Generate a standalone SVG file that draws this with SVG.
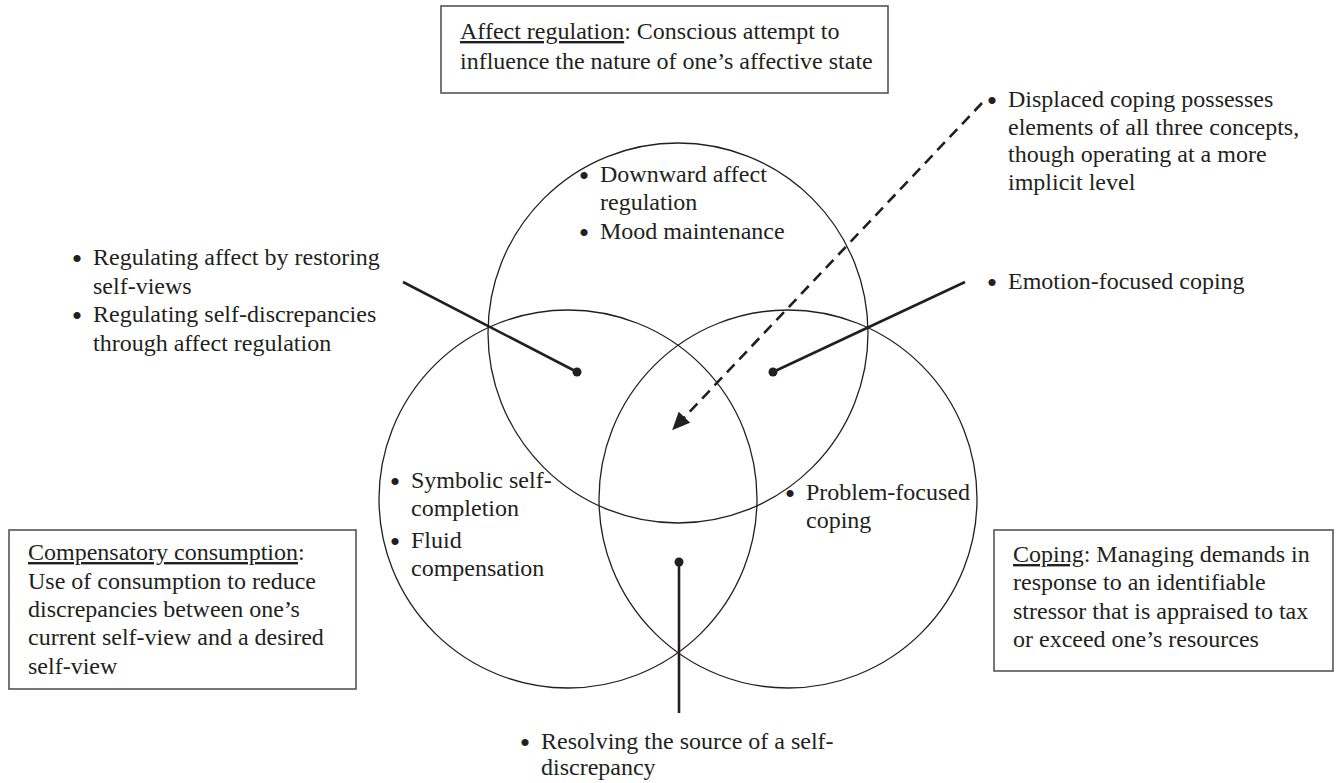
<svg xmlns="http://www.w3.org/2000/svg" width="1341" height="783" viewBox="0 0 1341 783">
<style>
text{font-family:"Liberation Serif","Times New Roman",serif;font-size:24px;fill:#231f20}
text.b{font-size:30px;text-anchor:middle}
.u{text-decoration:underline}
.box{fill:#fff;stroke:#555;stroke-width:1.6}
.circ{fill:none;stroke:#231f20;stroke-width:1.3}
.ln{stroke:#231f20;stroke-width:2.6;fill:none}
.dash{stroke:#231f20;stroke-width:2.6;fill:none;stroke-dasharray:11 7}
.dot{fill:#231f20}
</style>
<defs>
<marker id="ah" markerUnits="userSpaceOnUse" markerWidth="20" markerHeight="16" refX="8" refY="8" orient="auto">
<path d="M0,0 L18,8 L0,16 z" fill="#231f20"/>
</marker>
</defs>
<rect width="1341" height="783" fill="#fff"/>
<g id="circles">
<circle id="c-top" class="circ" cx="678" cy="333" r="190"/>
<circle id="c-left" class="circ" cx="568" cy="499" r="189"/>
<circle id="c-right" class="circ" cx="788" cy="499" r="189"/>
</g>
<g id="connectors">
<line class="ln" x1="403" y1="282" x2="577" y2="372"/>
<line class="ln" x1="965" y1="282" x2="773" y2="372"/>
<line class="ln" x1="679" y1="562" x2="679" y2="713"/>
<circle class="dot" cx="577" cy="372" r="4.5"/>
<circle class="dot" cx="773" cy="372" r="4.5"/>
<circle class="dot" cx="679" cy="562" r="4.5"/>
<line class="dash" x1="982" y1="103" x2="679" y2="423" marker-end="url(#ah)"/>
</g>
<g id="box-affect">
<rect class="box" x="441" y="6" width="447" height="87"/>
<text x="460" y="39"><tspan class="u">Affect regulation</tspan>: Conscious attempt to</text>
<text x="460" y="69">influence the nature of one’s affective state</text>
</g>
<g id="box-compensatory">
<rect class="box" x="9" y="530" width="347" height="159"/>
<text x="28" y="560"><tspan class="u">Compensatory consumption</tspan>:</text>
<text x="28" y="589">Use of consumption to reduce</text>
<text x="28" y="617">discrepancies between one’s</text>
<text x="28" y="645">current self-view and a desired</text>
<text x="28" y="674">self-view</text>
</g>
<g id="box-coping">
<rect class="box" x="994" y="530" width="339" height="141"/>
<text x="1013" y="562"><tspan class="u">Coping</tspan>: Managing demands in</text>
<text x="1013" y="590">response to an identifiable</text>
<text x="1013" y="619">stressor that is appraised to tax</text>
<text x="1013" y="647">or exceed one’s resources</text>
</g>
<g id="list-left">
<text class="b" x="77" y="269">•</text>
<text x="93" y="265">Regulating affect by restoring</text>
<text x="93" y="294">self-views</text>
<text class="b" x="77" y="326">•</text>
<text x="93" y="322">Regulating self-discrepancies</text>
<text x="93" y="351">through affect regulation</text>
</g>
<g id="list-top">
<text class="b" x="584" y="186">•</text>
<text x="600" y="182">Downward affect</text>
<text x="600" y="210">regulation</text>
<text class="b" x="584" y="243">•</text>
<text x="600" y="239">Mood maintenance</text>
</g>
<g id="list-displaced">
<text class="b" x="992" y="111">•</text>
<text x="1008" y="107">Displaced coping possesses</text>
<text x="1008" y="135">elements of all three concepts,</text>
<text x="1008" y="162">though operating at a more</text>
<text x="1008" y="190">implicit level</text>
</g>
<g id="list-emotion">
<text class="b" x="992" y="293">•</text>
<text x="1008" y="289">Emotion-focused coping</text>
</g>
<g id="list-symbolic">
<text class="b" x="395" y="492">•</text>
<text x="411" y="488">Symbolic self-</text>
<text x="411" y="516">completion</text>
<text class="b" x="395" y="552">•</text>
<text x="411" y="548">Fluid</text>
<text x="411" y="576">compensation</text>
</g>
<g id="list-problem">
<text class="b" x="790" y="504">•</text>
<text x="806" y="500">Problem-focused</text>
<text x="806" y="528">coping</text>
</g>
<g id="list-resolving">
<text class="b" x="525" y="753">•</text>
<text x="541" y="749">Resolving the source of a self-</text>
<text x="541" y="775">discrepancy</text>
</g>
</svg>
